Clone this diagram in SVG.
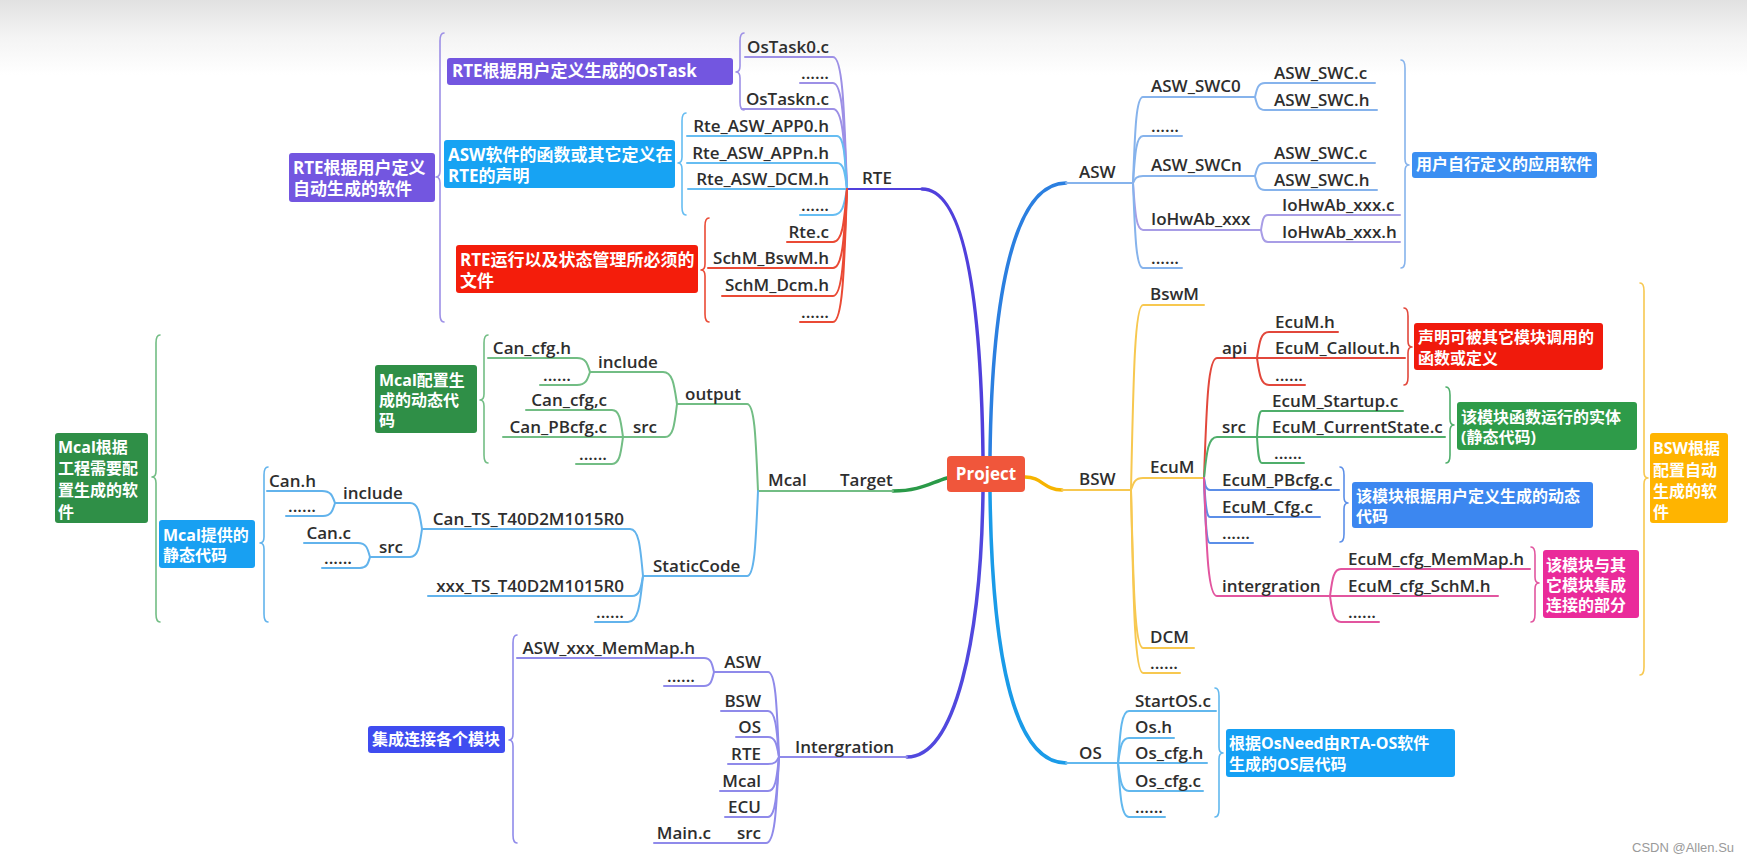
<svg xmlns="http://www.w3.org/2000/svg" width="1747" height="861" viewBox="0 0 1747 861">
<defs>
<linearGradient id="bg" x1="0" y1="0" x2="0" y2="1" gradientUnits="objectBoundingBox">
<stop offset="0" stop-color="#e1e1e1"/>
<stop offset="0.5" stop-color="#f4f4f4"/>
<stop offset="1" stop-color="#ffffff"/>
</linearGradient>
<style>
.t{font-family:"Open Sans","Noto Sans CJK SC",sans-serif;font-weight:600;font-size:17px;fill:#2e2e2e}
.e{text-anchor:end}
.b{font-family:"Open Sans","Noto Sans CJK SC",sans-serif;font-weight:700;font-size:16px;fill:#ffffff}
.b17{font-size:17px}
path{fill:none;stroke-linecap:round;stroke-linejoin:round}
.m{stroke-width:3.5}
.l{stroke-width:2}
.br{stroke-width:1.6}
.rte{stroke:#5040dc}.ost{stroke:#9d90e6}.rab{stroke:#66bdf2}.rtc{stroke:#ea4a35}
.asw{stroke:#2b7fe0}.awc{stroke:#86b3ec}.io{stroke:#a89de6}
.bsw{stroke:#f6b400}.bwc{stroke:#f7c850}.api{stroke:#e2473b}.src{stroke:#4fae6b}.pb{stroke:#5b8ee8}.int{stroke:#e2559f}
.os{stroke:#1a9be8}.osc{stroke:#62b8ee}
.mc{stroke:#2a9a48}.mcg{stroke:#72bd84}.mcb{stroke:#62b3ec}
.ig{stroke:#5148de}.igc{stroke:#8f8aea}
</style>
</defs>
<rect x="0" y="0" width="1747" height="861" fill="#ffffff"/>
<rect x="0" y="0" width="1747" height="75" fill="url(#bg)"/>

<g id="connectors">
<!-- main branches -->
<path class="m rte" d="M922,189 C965,189 981,300 983,456"/>
<path class="m asw" d="M990,456 C992,290 1015,183 1066,183"/>
<path class="m bsw" d="M1025,477 C1042,477 1044,490 1062,490"/>
<path class="m os" d="M990,492 C992,660 1015,763 1066,763"/>
<path class="m mc" d="M893,491 C920,491 930,483 947,478"/>
<path class="m ig" d="M907,757 C955,757 981,640 983,492"/>
<!-- RTE -->
<path class="l rte" d="M847,189 H922"/>
<path class="l ost" d="M745,57 H833 C842.8,57 844.2,109.8 847,189"/>
<path class="l ost" d="M800,83 H833 C842.8,83 844.2,125.4 847,189"/>
<path class="l ost" d="M742,109 H833 C842.8,109 844.2,141 847,189"/>
<path class="l rab" d="M687,136 H837 C844,136 845,157.2 847,189"/>
<path class="l rab" d="M687,163 H837 C844,163 845,173.4 847,189"/>
<path class="l rab" d="M688,189 H847"/>
<path class="l rab" d="M800,215 H833 C842.8,215 844.2,204.6 847,189"/>
<path class="l rtc" d="M787,242 H833 C842.8,242 844.2,220.8 847,189"/>
<path class="l rtc" d="M708,268 H833 C842.8,268 844.2,236.4 847,189"/>
<path class="l rtc" d="M722,296 H833 C842.8,296 844.2,253.2 847,189"/>
<path class="l rtc" d="M800,322 H833 C842.8,322 844.2,268.8 847,189"/>
<path class="br ost" d="M444,33 Q440,33 440,41 V171 Q440,177 436,177 Q440,177 440,183 V314 Q440,322 444,322"/>
<path class="br ost" d="M744,33 Q740,33 740,41 V66 Q740,72 736,72 Q740,72 740,78 V102 Q740,110 744,110"/>
<path class="br rab" d="M686,113 Q682,113 682,121 V157 Q682,163 678,163 Q682,163 682,169 V207 Q682,215 686,215"/>
<path class="br rtc" d="M709,218 Q705,218 705,226 V264 Q705,270 701,270 Q705,270 705,276 V314 Q705,322 709,322"/>
<!-- Mcal -->
<path class="l mcg" d="M758,491 H893"/>
<path class="l mcg" d="M677,404 H747 C754.7,404 755.8,438.8 758,491"/>
<path class="l mcb" d="M643,576 H747 C754.7,576 755.8,542 758,491"/>
<path class="l mcg" d="M590,372 H663 C672.8,372 674.2,384.8 677,404"/>
<path class="l mcg" d="M503,437 H665 C673.4,437 674.6,423.8 677,404"/>
<path class="l mcg" d="M488,358 H577 C586.1,358 587.4,363.6 590,372"/>
<path class="l mcg" d="M540,385 H577 C586.1,385 587.4,379.8 590,372"/>
<path class="l mcg" d="M526,410 H612 C619.7,410 620.8,420.8 623,437"/>
<path class="l mcg" d="M576,464 H612 C619.7,464 620.8,453.2 623,437"/>
<path class="l mcb" d="M422,529 H630 C639.1,529 640.4,547.8 643,576"/>
<path class="l mcb" d="M428,596 H632 C639.7,596 640.8,588 643,576"/>
<path class="l mcb" d="M595,622 H628 C638.5,622 640,603.6 643,576"/>
<path class="l mcb" d="M335,503 H410 C418.4,503 419.6,513.4 422,529"/>
<path class="l mcb" d="M370,557 H410 C418.4,557 419.6,545.8 422,529"/>
<path class="l mcb" d="M267,491 H322 C331.1,491 332.4,495.8 335,503"/>
<path class="l mcb" d="M286,516 H323 C331.4,516 332.6,510.8 335,503"/>
<path class="l mcb" d="M304,543 H358 C366.4,543 367.6,548.6 370,557"/>
<path class="l mcb" d="M322,568 H360 C367,568 368,563.6 370,557"/>
<path class="br mcg" d="M488,335 Q484,335 484,343 V394 Q484,400 480,400 Q484,400 484,406 V455 Q484,463 488,463"/>
<path class="br mcb" d="M268,467 Q264,467 264,475 V537 Q264,543 260,543 Q264,543 264,549 V614 Q264,622 268,622"/>
<path class="br mcg" d="M160,335 Q156,335 156,343 V471 Q156,477 152,477 Q156,477 156,483 V614 Q156,622 160,622"/>
<!-- Intergration -->
<path class="l igc" d="M779,757 H907"/>
<path class="l igc" d="M714,672 H768 C775.7,672 776.8,706 779,757"/>
<path class="l igc" d="M721,711 H768 C775.7,711 776.8,729.4 779,757"/>
<path class="l igc" d="M736,737 H768 C775.7,737 776.8,745 779,757"/>
<path class="l igc" d="M728,764 H768 C775.7,764 776.8,761.2 779,757"/>
<path class="l igc" d="M720,791 H768 C775.7,791 776.8,777.4 779,757"/>
<path class="l igc" d="M725,817 H768 C775.7,817 776.8,793 779,757"/>
<path class="l igc" d="M654,843 H766 C775.1,843 776.4,808.6 779,757"/>
<path class="l igc" d="M517,658 H704 C711,658 712,663.6 714,672"/>
<path class="l igc" d="M664,686 H704 C711,686 712,680.4 714,672"/>
<path class="br igc" d="M517,635 Q513,635 513,643 V734 Q513,740 509,740 Q513,740 513,746 V835 Q513,843 517,843"/>
<!-- ASW -->
<path class="l awc" d="M1066,183 H1133"/>
<path class="l awc" d="M1133,183 C1135,131.4 1136,97 1143,97 H1255"/>
<path class="l awc" d="M1133,183 C1135,154.8 1136,136 1143,136 H1182"/>
<path class="l awc" d="M1133,183 C1135,178.8 1136,176 1143,176 H1255"/>
<path class="l io" d="M1133,183 C1135,211.2 1136,230 1143,230 H1261"/>
<path class="l awc" d="M1133,183 C1135,234 1136,268 1143,268 H1182"/>
<path class="l awc" d="M1255,97 C1257,88.6 1258,83 1265,83 H1375"/>
<path class="l awc" d="M1255,97 C1257,104.8 1258,110 1265,110 H1377"/>
<path class="l awc" d="M1255,176 C1257,168.2 1258,163 1265,163 H1375"/>
<path class="l awc" d="M1255,176 C1257,184.4 1258,190 1265,190 H1377"/>
<path class="l io" d="M1261,230 C1262.4,221 1263.1,215 1268,215 H1400"/>
<path class="l io" d="M1261,230 C1262.4,237.2 1263.1,242 1268,242 H1400"/>
<path class="br awc" d="M1401,60 Q1405,60 1405,68 V159 Q1405,165 1409,165 Q1405,165 1405,171 V260 Q1405,268 1401,268"/>
<!-- BSW -->
<path class="l bwc" d="M1062,490 H1131"/>
<path class="l bwc" d="M1131,490 C1133.4,379 1134.6,305 1143,305 H1204"/>
<path class="l bwc" d="M1131,490 C1133.4,482.8 1134.6,478 1143,478 H1204"/>
<path class="l bwc" d="M1131,490 C1133.4,584.8 1134.6,648 1143,648 H1194"/>
<path class="l bwc" d="M1131,490 C1133.4,599.8 1134.6,673 1143,673 H1180"/>
<path class="l api" d="M1204,478 C1206.6,406 1207.9,358 1217,358 H1405"/>
<path class="l api" d="M1257,358 C1259.4,342.4 1260.6,332 1269,332 H1338"/>
<path class="l api" d="M1257,358 C1259.4,374.2 1260.6,385 1269,385 H1305"/>
<path class="l src" d="M1204,478 C1206.6,453.4 1207.9,437 1217,437 H1445"/>
<path class="l src" d="M1257,437 C1258,421.4 1258.5,411 1262,411 H1403"/>
<path class="l src" d="M1257,437 C1258,452.6 1258.5,463 1262,463 H1304"/>
<path class="l pb" d="M1204,478 C1205.2,485.2 1205.8,490 1210,490 H1339"/>
<path class="l pb" d="M1204,478 C1205.2,501.4 1205.8,517 1210,517 H1320"/>
<path class="l pb" d="M1204,478 C1205.2,517 1205.8,543 1210,543 H1253"/>
<path class="l int" d="M1204,478 C1206.6,548.8 1207.9,596 1217,596 H1498"/>
<path class="l int" d="M1330,596 C1332.2,579.8 1333.3,569 1341,569 H1530"/>
<path class="l int" d="M1330,596 C1332.2,611.6 1333.3,622 1341,622 H1379"/>
<path class="br api" d="M1404,308 Q1408,308 1408,316 V341 Q1408,347 1412,347 Q1408,347 1408,353 V377 Q1408,385 1404,385"/>
<path class="br src" d="M1446,387 Q1450,387 1450,395 V419 Q1450,425 1454,425 Q1450,425 1450,431 V455 Q1450,463 1446,463"/>
<path class="br pb" d="M1340,467 Q1344,467 1344,475 V497 Q1344,503 1348,503 Q1344,503 1344,509 V534 Q1344,542 1340,542"/>
<path class="br int" d="M1531,547 Q1535,547 1535,555 V577 Q1535,583 1539,583 Q1535,583 1535,589 V614 Q1535,622 1531,622"/>
<path class="br bwc" d="M1640,283 Q1644,283 1644,291 V472 Q1644,478 1648,478 Q1644,478 1644,484 V667 Q1644,675 1640,675"/>
<!-- OS -->
<path class="l osc" d="M1066,763 H1207"/>
<path class="l osc" d="M1118,763 C1120.2,731.8 1121.3,711 1129,711 H1216"/>
<path class="l osc" d="M1118,763 C1120.2,748 1121.3,738 1129,738 H1174"/>
<path class="l osc" d="M1118,763 C1120.2,779.8 1121.3,791 1129,791 H1203"/>
<path class="l osc" d="M1118,763 C1120.2,795.4 1121.3,817 1129,817 H1165"/>
<path class="br osc" d="M1215,688 Q1219,688 1219,696 V747 Q1219,753 1223,753 Q1219,753 1219,759 V809 Q1219,817 1215,817"/>
</g>

<g id="project">
<rect x="947" y="456" width="78" height="36" rx="4" fill="#f0563b"/>
<text class="b b17" x="986" y="480" text-anchor="middle">Project</text>
</g>

<!-- RTE subtree -->
<g id="rte"><text class="t" x="862" y="184">RTE</text></g>
<g id="ostask0"><text class="t e" x="829" y="53">OsTask0.c</text></g>
<g id="ostask-dots"><text class="t e" x="829" y="79">......</text></g>
<g id="ostaskn"><text class="t e" x="829" y="105">OsTaskn.c</text></g>
<g id="rte-app0"><text class="t e" x="829" y="132">Rte_ASW_APP0.h</text></g>
<g id="rte-appn"><text class="t e" x="829" y="159">Rte_ASW_APPn.h</text></g>
<g id="rte-dcm"><text class="t e" x="829" y="185">Rte_ASW_DCM.h</text></g>
<g id="rte-asw-dots"><text class="t e" x="829" y="211">......</text></g>
<g id="rte-c"><text class="t e" x="829" y="238">Rte.c</text></g>
<g id="schm-bswm"><text class="t e" x="829" y="264">SchM_BswM.h</text></g>
<g id="schm-dcm"><text class="t e" x="829" y="291">SchM_Dcm.h</text></g>
<g id="rte-c-dots"><text class="t e" x="829" y="318">......</text></g>
<g id="note-rte-soft">
<rect x="289" y="153" width="146" height="49" rx="3" fill="#7356e0"/>
<text class="b b17" x="293" y="174">RTE根据用户定义</text>
<text class="b b17" x="293" y="195">自动生成的软件</text>
</g>
<g id="note-ostask">
<rect x="447" y="58" width="286" height="27" rx="3" fill="#7356e0"/>
<text class="b b17" x="452" y="77">RTE根据用户定义生成的OsTask</text>
</g>
<g id="note-rte-asw">
<rect x="444" y="140" width="231" height="48" rx="3" fill="#17a3f3"/>
<text class="b b17" x="448" y="161">ASW软件的函数或其它定义在</text>
<text class="b b17" x="448" y="182">RTE的声明</text>
</g>
<g id="note-rte-run">
<rect x="456" y="245" width="242" height="48" rx="3" fill="#f41d0b"/>
<text class="b b17" x="460" y="266">RTE运行以及状态管理所必须的</text>
<text class="b b17" x="460" y="287">文件</text>
</g>

<!-- Target / Mcal subtree -->
<g id="target"><text class="t" x="840" y="486">Target</text></g>
<g id="mcal"><text class="t" x="768" y="486">Mcal</text></g>
<g id="output"><text class="t" x="685" y="400">output</text></g>
<g id="staticcode"><text class="t" x="653" y="572">StaticCode</text></g>
<g id="out-include"><text class="t" x="598" y="368">include</text></g>
<g id="out-src"><text class="t" x="633" y="433">src</text></g>
<g id="can-cfg-h"><text class="t e" x="571" y="354">Can_cfg.h</text></g>
<g id="can-cfg-dots"><text class="t e" x="571" y="381">......</text></g>
<g id="can-cfg-c"><text class="t e" x="607" y="406">Can_cfg,c</text></g>
<g id="can-pbcfg-c"><text class="t e" x="607" y="433">Can_PBcfg.c</text></g>
<g id="can-src-dots"><text class="t e" x="607" y="460">......</text></g>
<g id="can-ts"><text class="t e" x="624" y="525">Can_TS_T40D2M1015R0</text></g>
<g id="xxx-ts"><text class="t e" x="624" y="592">xxx_TS_T40D2M1015R0</text></g>
<g id="static-dots"><text class="t e" x="624" y="618">......</text></g>
<g id="ts-include"><text class="t" x="343" y="499">include</text></g>
<g id="ts-src"><text class="t" x="379" y="553">src</text></g>
<g id="can-h"><text class="t e" x="316" y="487">Can.h</text></g>
<g id="can-h-dots"><text class="t e" x="316" y="512">......</text></g>
<g id="can-c"><text class="t e" x="351" y="539">Can.c</text></g>
<g id="can-c-dots"><text class="t e" x="352" y="564">......</text></g>
<g id="note-mcal-cfg">
<rect x="375" y="365" width="102" height="68" rx="3" fill="#2f8f47"/>
<text class="b" x="379" y="386">Mcal配置生</text>
<text class="b" x="379" y="406">成的动态代</text>
<text class="b" x="379" y="426">码</text>
</g>
<g id="note-mcal-static">
<rect x="159" y="520" width="96" height="48" rx="3" fill="#18a0f2"/>
<text class="b" x="163" y="541">Mcal提供的</text>
<text class="b" x="163" y="561">静态代码</text>
</g>
<g id="note-mcal">
<rect x="55" y="433" width="93" height="90" rx="3" fill="#2f8f47"/>
<text class="b" x="58" y="453">Mcal根据</text>
<text class="b" x="58" y="474">工程需要配</text>
<text class="b" x="58" y="496">置生成的软</text>
<text class="b" x="58" y="518">件</text>
</g>

<!-- Intergration subtree -->
<g id="intergration"><text class="t" x="795" y="753">Intergration</text></g>
<g id="ig-asw"><text class="t e" x="761" y="668">ASW</text></g>
<g id="ig-bsw"><text class="t e" x="761" y="707">BSW</text></g>
<g id="ig-os"><text class="t e" x="761" y="733">OS</text></g>
<g id="ig-rte"><text class="t e" x="761" y="760">RTE</text></g>
<g id="ig-mcal"><text class="t e" x="761" y="787">Mcal</text></g>
<g id="ig-ecu"><text class="t e" x="761" y="813">ECU</text></g>
<g id="ig-src"><text class="t e" x="761" y="839">src</text></g>
<g id="main-c"><text class="t e" x="711" y="839">Main.c</text></g>
<g id="asw-memmap"><text class="t e" x="695" y="654">ASW_xxx_MemMap.h</text></g>
<g id="ig-asw-dots"><text class="t e" x="695" y="682">......</text></g>
<g id="note-intg">
<rect x="368" y="726" width="137" height="27" rx="3" fill="#3f4cf0"/>
<text class="b" x="372" y="745">集成连接各个模块</text>
</g>

<!-- ASW subtree -->
<g id="asw"><text class="t" x="1079" y="178">ASW</text></g>
<g id="asw-swc0"><text class="t" x="1151" y="92">ASW_SWC0</text></g>
<g id="asw-dots1"><text class="t" x="1151" y="132">......</text></g>
<g id="asw-swcn"><text class="t" x="1151" y="171">ASW_SWCn</text></g>
<g id="iohwab"><text class="t" x="1151" y="225">IoHwAb_xxx</text></g>
<g id="asw-dots2"><text class="t" x="1151" y="264">......</text></g>
<g id="swc0-c"><text class="t" x="1274" y="79">ASW_SWC.c</text></g>
<g id="swc0-h"><text class="t" x="1274" y="106">ASW_SWC.h</text></g>
<g id="swcn-c"><text class="t" x="1274" y="159">ASW_SWC.c</text></g>
<g id="swcn-h"><text class="t" x="1274" y="186">ASW_SWC.h</text></g>
<g id="iohwab-c"><text class="t" x="1282" y="211">IoHwAb_xxx.c</text></g>
<g id="iohwab-h"><text class="t" x="1282" y="238">IoHwAb_xxx.h</text></g>
<g id="note-asw">
<rect x="1412" y="152" width="185" height="26" rx="3" fill="#3b8ff2"/>
<text class="b" x="1416" y="170">用户自行定义的应用软件</text>
</g>

<!-- BSW subtree -->
<g id="bsw"><text class="t" x="1079" y="485">BSW</text></g>
<g id="bswm"><text class="t" x="1150" y="300">BswM</text></g>
<g id="ecum"><text class="t" x="1150" y="473">EcuM</text></g>
<g id="dcm"><text class="t" x="1150" y="643">DCM</text></g>
<g id="bsw-dots"><text class="t" x="1150" y="669">......</text></g>
<g id="api"><text class="t" x="1222" y="354">api</text></g>
<g id="ecum-h"><text class="t" x="1275" y="328">EcuM.h</text></g>
<g id="ecum-callout"><text class="t" x="1275" y="354">EcuM_Callout.h</text></g>
<g id="api-dots"><text class="t" x="1275" y="381">......</text></g>
<g id="ecum-src"><text class="t" x="1222" y="433">src</text></g>
<g id="ecum-startup"><text class="t" x="1272" y="407">EcuM_Startup.c</text></g>
<g id="ecum-currentstate"><text class="t" x="1272" y="433">EcuM_CurrentState.c</text></g>
<g id="src-dots"><text class="t" x="1274" y="459">......</text></g>
<g id="ecum-pbcfg"><text class="t" x="1222" y="486">EcuM_PBcfg.c</text></g>
<g id="ecum-cfg"><text class="t" x="1222" y="513">EcuM_Cfg.c</text></g>
<g id="cfg-dots"><text class="t" x="1222" y="539">......</text></g>
<g id="ecum-intergration"><text class="t" x="1222" y="592">intergration</text></g>
<g id="ecum-memmap"><text class="t" x="1348" y="565">EcuM_cfg_MemMap.h</text></g>
<g id="ecum-schm"><text class="t" x="1348" y="592">EcuM_cfg_SchM.h</text></g>
<g id="int-dots"><text class="t" x="1348" y="618">......</text></g>
<g id="note-api">
<rect x="1414" y="323" width="189" height="47" rx="3" fill="#f01a0c"/>
<text class="b" x="1418" y="343">声明可被其它模块调用的</text>
<text class="b" x="1418" y="364">函数或定义</text>
</g>
<g id="note-src">
<rect x="1457" y="402" width="180" height="48" rx="3" fill="#2e9b49"/>
<text class="b" x="1461" y="423">该模块函数运行的实体</text>
<text class="b" x="1461" y="443">(静态代码)</text>
</g>
<g id="note-pbcfg">
<rect x="1352" y="482" width="241" height="46" rx="3" fill="#3c87f0"/>
<text class="b" x="1356" y="502">该模块根据用户定义生成的动态</text>
<text class="b" x="1356" y="522">代码</text>
</g>
<g id="note-int">
<rect x="1543" y="550" width="96" height="68" rx="3" fill="#ea2b9a"/>
<text class="b" x="1546" y="571">该模块与其</text>
<text class="b" x="1546" y="591">它模块集成</text>
<text class="b" x="1546" y="611">连接的部分</text>
</g>
<g id="note-bsw">
<rect x="1650" y="433" width="78" height="90" rx="3" fill="#ffb400"/>
<text class="b" x="1653" y="454">BSW根据</text>
<text class="b" x="1653" y="476">配置自动</text>
<text class="b" x="1653" y="497">生成的软</text>
<text class="b" x="1653" y="518">件</text>
</g>

<!-- OS subtree -->
<g id="os"><text class="t" x="1079" y="759">OS</text></g>
<g id="startos"><text class="t" x="1135" y="707">StartOS.c</text></g>
<g id="os-h"><text class="t" x="1135" y="733">Os.h</text></g>
<g id="os-cfg-h"><text class="t" x="1135" y="759">Os_cfg.h</text></g>
<g id="os-cfg-c"><text class="t" x="1135" y="787">Os_cfg.c</text></g>
<g id="os-dots"><text class="t" x="1135" y="813">......</text></g>
<g id="note-os">
<rect x="1226" y="729" width="229" height="48" rx="3" fill="#15a0f4"/>
<text class="b" x="1229" y="749">根据OsNeed由RTA-OS软件</text>
<text class="b" x="1229" y="770">生成的OS层代码</text>
</g>

<g id="watermark"><text x="1632" y="852" font-family="Liberation Sans, Arial, sans-serif" font-size="13" fill="#9a9a9a">CSDN @Allen.Su</text></g>
</svg>
